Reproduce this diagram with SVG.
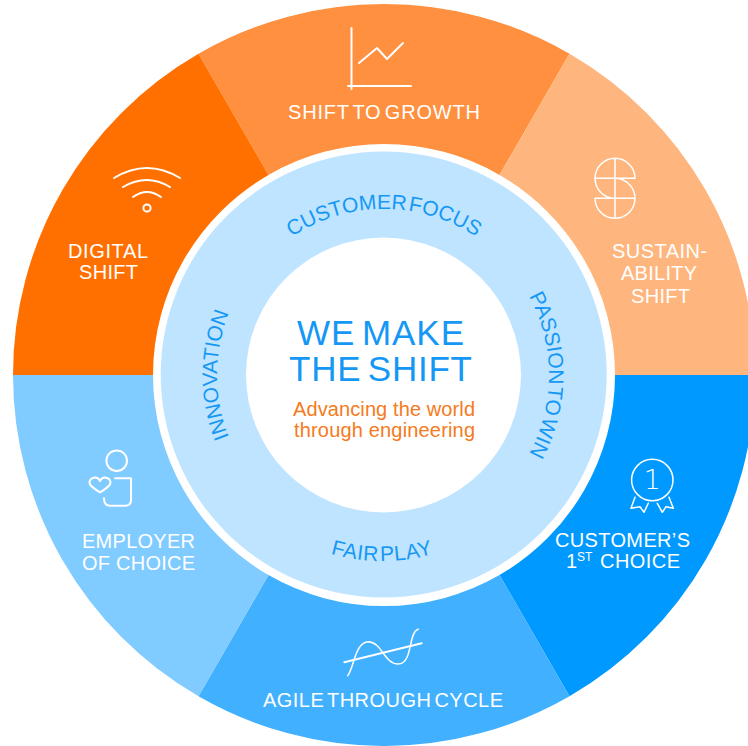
<svg xmlns="http://www.w3.org/2000/svg" width="748" height="746" viewBox="0 0 748 746">
<style>
text{font-family:"Liberation Sans",Arial,sans-serif}
.l{fill:#fff;font-size:20px}
.w{word-spacing:-3px}
.i{fill:none;stroke:#fff;stroke-width:2;stroke-linecap:round;stroke-linejoin:round}
.c{fill:#1598f5;font-size:21px;text-anchor:middle;word-spacing:-4px}
.h{fill:#1598f5;font-size:35px;word-spacing:-4px}
.s{fill:#f57a20;font-size:20px}
</style>
<defs>
<path id="pTop" d="M218,375 A166,166 0 0 1 550,375"/>
<path id="pRight" d="M384,210 A165,165 0 0 1 384,540"/>
<path id="pLeft" d="M384,542 A167,167 0 0 1 384,208"/>
<path id="pBottom" d="M196,375 A186,186 0 0 0 568,375"/>
</defs>
<rect width="748" height="746" fill="#fff"/>
<g id="sector-growth">
<path fill="#ff9040" d="M198.500,53.700 A371,371 0 0 1 569.500,53.700 L499.500,174.950 A231,231 0 0 0 268.500,174.950 Z"/>
<path class="i" d="M351.500,28 V89 M348,86 H411"/>
<path class="i" d="M359,63 L377,48 L387,59 L403,43"/>
<text class="l w" x="288" y="119" textLength="192">SHIFT TO GROWTH</text>
</g>
<g id="sector-digital">
<path fill="#ff7000" d="M13,375 A371,371 0 0 1 198.500,53.700 L268.500,174.950 A231,231 0 0 0 153,375 Z"/>
<path class="i" d="M114,178 Q147,158 180,178 M123,187 Q147,173 170,187 M133,197 Q147,187 161,197"/>
<circle class="i" cx="147" cy="208" r="3.600"/>
<text class="l" x="68" y="258" textLength="80">DIGITAL</text>
<text class="l" x="79" y="279" textLength="59">SHIFT</text>
</g>
<g id="sector-sustainability">
<path fill="#ffb67e" d="M569.500,53.700 A371,371 0 0 1 755,375 L615,375 A231,231 0 0 0 499.500,174.950 Z"/>
<path class="i" style="stroke-width:1.500" d="M635,178.300 A20,20 0 1 0 615,198.300 M615,178.300 A20,20 0 1 1 595,198.300 M595,178.300 H635 M595,198.300 H635 M615,158.300 V218.300"/>
<text class="l" x="612" y="258" textLength="95">SUSTAIN-</text>
<text class="l" x="621" y="280" textLength="76">ABILITY</text>
<text class="l" x="631" y="303" textLength="59">SHIFT</text>
</g>
<g id="sector-customer">
<path fill="#0099ff" d="M755,375 A371,371 0 0 1 569.500,696.300 L499.500,575.050 A231,231 0 0 0 615,375 Z"/>
<circle class="i" style="stroke-width:1.500" cx="652.300" cy="480" r="20.700"/>
<path class="i" style="stroke-width:1.500" d="M635,497.300 L631,508.300 L640,506.700 L644,512.300 L648.300,503.300 M657.300,503.300 L662.300,512.300 L666,506.700 L673.300,508.300 L669,497.300"/>
<text x="652.300" y="488.500" fill="#fff" font-size="27" font-weight="200" text-anchor="middle" style="font-family:'DejaVu Sans',sans-serif">1</text>
<text class="l" x="555" y="547" textLength="135">CUSTOMER’S</text>
<text class="l" x="566" y="568">1</text>
<text x="577" y="561" fill="#fff" font-size="12">ST</text>
<text class="l" x="600" y="568" textLength="80">CHOICE</text>
</g>
<g id="sector-agile">
<path fill="#40b0ff" d="M569.500,696.300 A371,371 0 0 1 198.500,696.300 L268.500,575.050 A231,231 0 0 0 499.500,575.050 Z"/>
<path class="i" d="M344.300,662.300 L421.700,643.300"/>
<path class="i" style="stroke-width:1.500" d="M347.700,675.700 C354,668 355,642 368.300,641.700 C382,642 384,664 398.300,664 C413,664 408,632 418.300,629.300"/>
<text class="l w" x="263" y="707" textLength="240">AGILE THROUGH CYCLE</text>
</g>
<g id="sector-employer">
<path fill="#80cbff" d="M198.500,696.300 A371,371 0 0 1 13,375 L153,375 A231,231 0 0 0 268.500,575.050 Z"/>
<circle class="i" cx="116.700" cy="460.700" r="10.300"/>
<path class="i" d="M115,478.300 H131 V500 Q131,505.700 125,505.700 H110 Q104,505.700 104,498.300"/>
<path class="i" d="M100,492.500 C95,489 89,486 89.500,482 C90,478 97,475 100,481 C103,475 110,478 110.500,482 C111,486 105,489 100,492.500 Z"/>
<text class="l" x="82" y="548" textLength="113">EMPLOYER</text>
<text class="l" x="82" y="570" textLength="113">OF CHOICE</text>
</g>
<g id="values-ring">
<circle cx="383.700" cy="374.500" r="223" fill="#bfe4ff"/>
<text class="c"><textPath href="#pTop" startOffset="50%">CUSTOMER FOCUS</textPath></text>
<text class="c"><textPath href="#pRight" startOffset="50%">PASSION TO WIN</textPath></text>
<text class="c"><textPath href="#pLeft" startOffset="50%">INNOVATION</textPath></text>
<text class="c" style="letter-spacing:.4px"><textPath href="#pBottom" startOffset="50%">FAIR PLAY</textPath></text>
</g>
<g id="center">
<circle cx="383.500" cy="375" r="137.500" fill="#fff"/>
<text class="h" x="297" y="345" textLength="167">WE MAKE</text>
<text class="h" x="289" y="381" textLength="183">THE SHIFT</text>
<text class="s" x="293" y="416" textLength="182">Advancing the world</text>
<text class="s" x="294" y="437" textLength="181">through engineering</text>
</g>
</svg>
